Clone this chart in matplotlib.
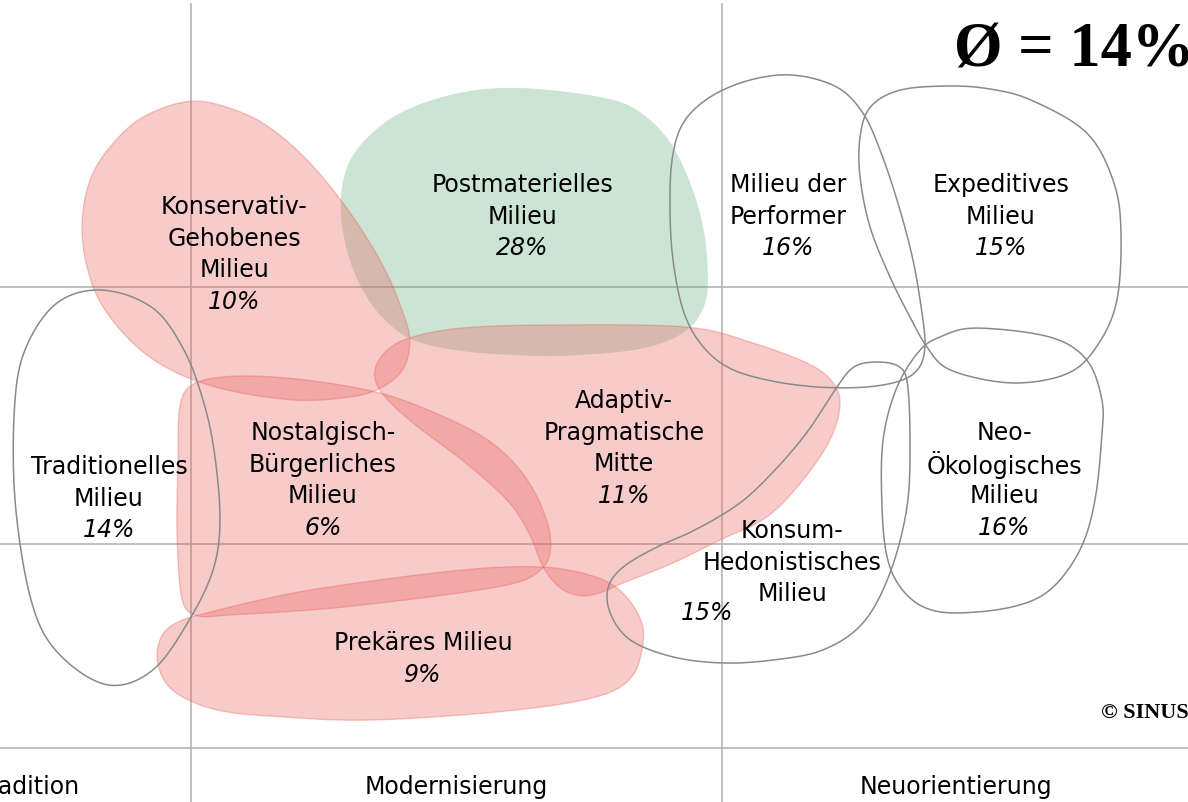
import numpy as np
import matplotlib
matplotlib.use("Agg")
import matplotlib.pyplot as plt
from matplotlib.patches import Polygon

# Sinus-Milieus, Anteil in %
milieus = ["Konservativ-\nGehobenes\nMilieu", "Postmaterielles\nMilieu", "Milieu der\nPerformer",
           "Expeditives\nMilieu", "Traditionelles\nMilieu", "Nostalgisch-\nBürgerliches\nMilieu",
           "Adaptiv-\nPragmatische\nMitte", "Neo-\nÖkologisches\nMilieu",
           "Konsum-\nHedonistisches\nMilieu", "Prekäres Milieu"]
anteil = [10, 28, 16, 15, 14, 6, 11, 16, 15, 9]
durchschnitt = 14
achsen = ["Tradition", "Modernisierung", "Neuorientierung"]

# Umrisse der Milieus (Bildkoordinaten)
umrisse = [
    [(193, 101), (243, 113), (277, 133), (310, 163), (343, 203), (370, 243), (390, 280), (403, 313),
     (410, 340), (403, 370), (377, 390), (343, 398), (293, 400), (227, 390), (177, 373), (137, 347),
     (103, 307), (87, 267), (82, 223), (90, 180), (110, 147), (143, 117)],
    [(520, 88), (600, 97), (640, 112), (675, 150), (701, 217), (708, 283), (700, 315), (680, 335),
     (640, 349), (580, 355), (538, 356), (470, 352), (421, 343), (395, 329), (372, 305), (352, 267),
     (341, 217), (345, 173), (364, 141), (402, 112), (459, 93)],
    [(793, 75), (837, 87), (863, 113), (880, 150), (897, 200), (913, 260), (923, 320), (925, 347),
     (920, 367), (903, 380), (867, 387), (817, 387), (767, 380), (727, 367), (700, 343), (683, 310),
     (673, 260), (670, 210), (672, 160), (683, 123), (710, 97), (750, 80)],
    [(950, 86), (990, 89), (1031, 100), (1087, 133), (1114, 183), (1121, 233), (1117, 300),
     (1099, 343), (1069, 373), (1012, 383), (950, 370), (927, 347), (910, 317), (890, 277),
     (870, 227), (860, 177), (860, 137), (870, 107), (900, 90)],
    [(103, 290), (153, 308), (184, 350), (203, 400), (214, 450), (220, 517), (214, 567), (191, 617),
     (153, 670), (107, 685), (57, 652), (31, 600), (15, 500), (15, 400), (27, 345), (58, 302)],
    [(195, 383), (239, 376), (306, 380), (380, 393), (440, 415), (488, 440), (520, 470), (541, 505),
     (551, 543), (541, 570), (497, 587), (344, 607), (230, 615), (197, 616), (182, 600), (177, 533),
     (178, 467), (180, 405)],
    [(409, 338), (462, 328), (552, 325), (686, 327), (753, 343), (811, 365), (835, 385), (840, 407),
     (830, 440), (803, 480), (767, 517), (720, 540), (673, 563), (623, 583), (600, 593), (580, 596),
     (560, 588), (543, 567), (529, 533), (507, 500), (462, 460), (418, 427), (384, 396), (374, 374),
     (384, 353)],
    [(975, 328), (1050, 337), (1087, 360), (1102, 400), (1102, 433), (1095, 500), (1080, 550),
     (1050, 590), (1012, 607), (956, 613), (923, 607), (900, 587), (887, 557), (882, 507),
     (883, 440), (897, 387), (920, 350), (940, 337)],
    [(837, 387), (853, 367), (873, 362), (897, 365), (907, 380), (910, 440), (907, 507), (890, 573),
     (863, 623), (823, 650), (773, 660), (723, 663), (673, 657), (630, 640), (610, 613), (608, 587),
     (623, 567), (657, 547), (695, 530), (740, 503), (775, 470), (805, 435), (824, 407)],
    [(195, 616), (260, 600), (329, 587), (462, 570), (543, 567), (596, 577), (623, 593), (641, 620),
     (643, 643), (632, 677), (596, 697), (507, 711), (373, 720), (284, 717), (217, 710), (172, 690),
     (157, 660), (163, 633), (180, 621)],
]
text_pos = [(234, 207), (522, 185), (788, 185), (1001, 185), (109, 467), (323, 433), (624, 401),
            (1004, 433), (792, 531), (423, 643)]


def glatt(pts, n=24, sigma=5.0, m=1000):
    # geschlossene Catmull-Rom-Kurve, danach leicht geglättet
    p = np.asarray(pts, float)
    p0, p1, p2, p3 = np.roll(p, 1, 0), p, np.roll(p, -1, 0), np.roll(p, -2, 0)
    t = np.linspace(0, 1, n, endpoint=False)[:, None, None]
    c = 0.5 * (2 * p1 + (-p0 + p2) * t + (2 * p0 - 5 * p1 + 4 * p2 - p3) * t ** 2
               + (-p0 + 3 * p1 - 3 * p2 + p3) * t ** 3)
    c = c.transpose(1, 0, 2).reshape(-1, 2)
    cc = np.vstack([c, c[:1]])
    d = np.r_[0, np.cumsum(np.hypot(*np.diff(cc, axis=0).T))]
    s = np.linspace(0, d[-1], m, endpoint=False)
    x = np.interp(s, d, cc[:, 0])
    y = np.interp(s, d, cc[:, 1])
    sig = sigma / (d[-1] / m)
    g = np.exp(-2 * (np.pi * np.fft.fftfreq(m) * sig) ** 2)
    x = np.real(np.fft.ifft(np.fft.fft(x) * g))
    y = np.real(np.fft.ifft(np.fft.fft(y) * g))
    return np.column_stack([x, y])


rot = "#e9605a"
gruen = "#60ab79"

fig = plt.figure(figsize=(11.88, 8.02), dpi=100)
ax = fig.add_axes([0, 0, 1, 1])
ax.set_xlim(0, 1188)
ax.set_ylim(802, 0)
ax.axis("off")

# Raster
for x in [191, 722]:
    ax.plot([x, x], [4, 802], color="#b5b5b5", lw=1.2, zorder=1)
for y in [287, 544, 748]:
    ax.plot([0, 1188], [y, y], color="#b5b5b5", lw=1.2, zorder=1)

# grün unter rot, Umrisse oben
for i in range(len(anteil)):
    kurve = glatt(umrisse[i])
    diff = anteil[i] - durchschnitt
    if diff >= 5:
        ax.add_patch(Polygon(kurve, closed=True, facecolor=gruen, alpha=0.32,
                             edgecolor="none", zorder=2))
    elif diff <= -3:
        ax.add_patch(Polygon(kurve, closed=True, facecolor=rot, alpha=0.32,
                             edgecolor="none", zorder=3))
        ax.add_patch(Polygon(kurve, closed=True, facecolor="none", edgecolor=rot,
                             alpha=0.35, lw=1.0, zorder=3))
    else:
        ax.add_patch(Polygon(kurve, closed=True, facecolor="none", edgecolor="#8a8a8a",
                             lw=1.1, zorder=4))

zeile = 31.6
for name, wert, (x, y) in zip(milieus, anteil, text_pos):
    zeilen = name.split("\n")
    for k, z in enumerate(zeilen):
        ax.text(x, y + k * zeile, z, ha="center", va="center", fontsize=17,
                color="black", zorder=5)
    if name.startswith("Konsum"):
        ax.text(707, 613, f"{wert}%", ha="center", va="center", fontsize=17,
                style="italic", zorder=5)
    else:
        ax.text(x, y + len(zeilen) * zeile, f"{wert}%", ha="center", va="center",
                fontsize=17, style="italic", zorder=5)

ax.text(79, 787, achsen[0], ha="right", va="center", fontsize=17)
ax.text(456, 787, achsen[1], ha="center", va="center", fontsize=17)
ax.text(956, 787, achsen[2], ha="center", va="center", fontsize=17)

ax.text(954, 52, f"Ø = {durchschnitt}%", ha="left", va="center", fontsize=45,
        fontweight="bold", family="Liberation Serif")
ax.text(1101, 713, "© SINUS", ha="left", va="center", fontsize=16,
        fontweight="bold", family="Liberation Serif")

fig.savefig("out.png", dpi=100)
